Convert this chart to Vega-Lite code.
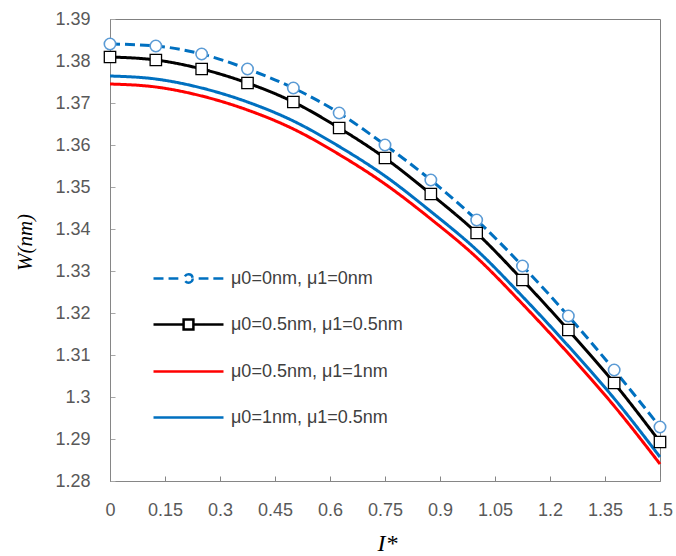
{
  "$schema": "https://vega.github.io/schema/vega-lite/v6.json",
  "width": 550,
  "height": 462,
  "autosize": "none",
  "padding": {"left": 110, "top": 19, "right": 16, "bottom": 75},
  "background": "white",
  "config": {
    "view": {"stroke": "#808080", "strokeWidth": 1},
    "axis": {"grid": false, "labelFont": "Liberation Sans", "labelFontSize": 18, "labelColor": "#595959", "domainColor": "#868686", "tickColor": "#a6a6a6", "tickSize": -5, "titleFont": "Liberation Serif", "titleFontStyle": "italic", "titleFontWeight": "normal", "titleColor": "#000000"}
  },
  "data": {"values": [
    {"x": 0, "W": 1.38405, "s": "μ0=0nm, μ1=0nm"},
    {"x": 0.125, "W": 1.38357, "s": "μ0=0nm, μ1=0nm"},
    {"x": 0.25, "W": 1.38167, "s": "μ0=0nm, μ1=0nm"},
    {"x": 0.375, "W": 1.3781, "s": "μ0=0nm, μ1=0nm"},
    {"x": 0.5, "W": 1.37357, "s": "μ0=0nm, μ1=0nm"},
    {"x": 0.625, "W": 1.36762, "s": "μ0=0nm, μ1=0nm"},
    {"x": 0.75, "W": 1.36, "s": "μ0=0nm, μ1=0nm"},
    {"x": 0.875, "W": 1.35167, "s": "μ0=0nm, μ1=0nm"},
    {"x": 1.0, "W": 1.34214, "s": "μ0=0nm, μ1=0nm"},
    {"x": 1.125, "W": 1.33119, "s": "μ0=0nm, μ1=0nm"},
    {"x": 1.25, "W": 1.31929, "s": "μ0=0nm, μ1=0nm"},
    {"x": 1.375, "W": 1.30643, "s": "μ0=0nm, μ1=0nm"},
    {"x": 1.5, "W": 1.29286, "s": "μ0=0nm, μ1=0nm"},
    {"x": 0, "W": 1.38095, "s": "μ0=0.5nm, μ1=0.5nm"},
    {"x": 0.125, "W": 1.38024, "s": "μ0=0.5nm, μ1=0.5nm"},
    {"x": 0.25, "W": 1.3781, "s": "μ0=0.5nm, μ1=0.5nm"},
    {"x": 0.375, "W": 1.37476, "s": "μ0=0.5nm, μ1=0.5nm"},
    {"x": 0.5, "W": 1.37024, "s": "μ0=0.5nm, μ1=0.5nm"},
    {"x": 0.625, "W": 1.36405, "s": "μ0=0.5nm, μ1=0.5nm"},
    {"x": 0.75, "W": 1.3569, "s": "μ0=0.5nm, μ1=0.5nm"},
    {"x": 0.875, "W": 1.34833, "s": "μ0=0.5nm, μ1=0.5nm"},
    {"x": 1.0, "W": 1.33905, "s": "μ0=0.5nm, μ1=0.5nm"},
    {"x": 1.125, "W": 1.32786, "s": "μ0=0.5nm, μ1=0.5nm"},
    {"x": 1.25, "W": 1.31595, "s": "μ0=0.5nm, μ1=0.5nm"},
    {"x": 1.375, "W": 1.30333, "s": "μ0=0.5nm, μ1=0.5nm"},
    {"x": 1.5, "W": 1.28929, "s": "μ0=0.5nm, μ1=0.5nm"},
    {"x": 0, "W": 1.374524, "s": "μ0=0.5nm, μ1=1nm"},
    {"x": 0.125, "W": 1.37381, "s": "μ0=0.5nm, μ1=1nm"},
    {"x": 0.25, "W": 1.371667, "s": "μ0=0.5nm, μ1=1nm"},
    {"x": 0.375, "W": 1.368333, "s": "μ0=0.5nm, μ1=1nm"},
    {"x": 0.5, "W": 1.36381, "s": "μ0=0.5nm, μ1=1nm"},
    {"x": 0.625, "W": 1.357738, "s": "μ0=0.5nm, μ1=1nm"},
    {"x": 0.75, "W": 1.350714, "s": "μ0=0.5nm, μ1=1nm"},
    {"x": 0.875, "W": 1.342381, "s": "μ0=0.5nm, μ1=1nm"},
    {"x": 1.0, "W": 1.333214, "s": "μ0=0.5nm, μ1=1nm"},
    {"x": 1.125, "W": 1.322143, "s": "μ0=0.5nm, μ1=1nm"},
    {"x": 1.25, "W": 1.310357, "s": "μ0=0.5nm, μ1=1nm"},
    {"x": 1.375, "W": 1.297857, "s": "μ0=0.5nm, μ1=1nm"},
    {"x": 1.5, "W": 1.284048, "s": "μ0=0.5nm, μ1=1nm"},
    {"x": 0, "W": 1.376429, "s": "μ0=1nm, μ1=0.5nm"},
    {"x": 0.125, "W": 1.375714, "s": "μ0=1nm, μ1=0.5nm"},
    {"x": 0.25, "W": 1.373571, "s": "μ0=1nm, μ1=0.5nm"},
    {"x": 0.375, "W": 1.370238, "s": "μ0=1nm, μ1=0.5nm"},
    {"x": 0.5, "W": 1.365714, "s": "μ0=1nm, μ1=0.5nm"},
    {"x": 0.625, "W": 1.359643, "s": "μ0=1nm, μ1=0.5nm"},
    {"x": 0.75, "W": 1.352619, "s": "μ0=1nm, μ1=0.5nm"},
    {"x": 0.875, "W": 1.344167, "s": "μ0=1nm, μ1=0.5nm"},
    {"x": 1.0, "W": 1.335, "s": "μ0=1nm, μ1=0.5nm"},
    {"x": 1.125, "W": 1.323929, "s": "μ0=1nm, μ1=0.5nm"},
    {"x": 1.25, "W": 1.312143, "s": "μ0=1nm, μ1=0.5nm"},
    {"x": 1.375, "W": 1.299643, "s": "μ0=1nm, μ1=0.5nm"},
    {"x": 1.5, "W": 1.285714, "s": "μ0=1nm, μ1=0.5nm"}
  ]},
  "encoding": {
    "x": {"field": "x", "type": "quantitative", "scale": {"domain": [0, 1.5], "nice": false, "zero": false},
      "axis": {"values": [0, 0.15, 0.3, 0.45, 0.6, 0.75, 0.9, 1.05, 1.2, 1.35, 1.5], "format": ".2~f", "labelPadding": 25, "tickColor": "#868686", "title": "I*", "titleFontSize": 24, "titleX": 277, "titleY": 69, "titleAlign": "center", "titleBaseline": "alphabetic", "labelFlush": false, "labelOverlap": false}},
    "y": {"field": "W", "type": "quantitative", "scale": {"domain": [1.28, 1.39], "nice": false, "zero": false},
      "axis": {"values": [1.28, 1.29, 1.3, 1.31, 1.32, 1.33, 1.34, 1.35, 1.36, 1.37, 1.38, 1.39], "format": ".2~f", "labelPadding": 25, "title": "W(nm)", "titleFontSize": 21, "titleX": -85, "titleY": 223, "titleAngle": -90, "titleAlign": "center", "titleBaseline": "middle", "labelFlush": false, "labelOverlap": false}}
  },
  "layer": [
    {
      "mark": {"type": "line", "interpolate": "monotone", "strokeWidth": 3},
      "encoding": {
        "color": {"field": "s", "type": "nominal",
          "scale": {"domain": ["μ0=0nm, μ1=0nm", "μ0=0.5nm, μ1=0.5nm", "μ0=0.5nm, μ1=1nm", "μ0=1nm, μ1=0.5nm"], "range": ["#0070C0", "#000000", "#FF0000", "#0070C0"]},
          "legend": {"orient": "none", "legendX": 42, "legendY": 223, "title": null, "padding": 0, "symbolSize": 4900, "symbolStrokeWidth": 2.5, "rowPadding": -21, "labelFont": "Liberation Sans", "labelFontSize": 18, "labelColor": "#404040", "labelOffset": 6, "labelLimit": 300,
            "encode": {"symbols": {"update": {
              "shape": {"signal": "datum.value === 'μ0=0nm, μ1=0nm' ? 'M-1,0H-0.71M-0.57,0H-0.29M0.29,0H0.57M0.71,0H1M0.12,0C0.12,0.0663,0.0663,0.12,0,0.12C-0.0663,0.12,-0.12,0.0663,-0.12,0C-0.12,-0.0663,-0.0663,-0.12,0,-0.12C0.0663,-0.12,0.12,-0.0663,0.12,0Z' : datum.value === 'μ0=0.5nm, μ1=0.5nm' ? 'M-1,0H-0.14M0.14,0H1M-0.14,-0.14H0.14V0.14H-0.14Z' : 'M-1,0H1'"},
              "fill": {"value": "white"},
              "strokeWidth": {"value": 2.5}
            }}}}
        },
        "strokeDash": {"field": "s", "type": "nominal", "legend": null,
          "scale": {"domain": ["μ0=0nm, μ1=0nm", "μ0=0.5nm, μ1=0.5nm", "μ0=0.5nm, μ1=1nm", "μ0=1nm, μ1=0.5nm"], "range": [[10, 5], [1, 0], [1, 0], [1, 0]]}}
      }
    },
    {
      "transform": [{"filter": "datum.s === 'μ0=0nm, μ1=0nm' || datum.s === 'μ0=0.5nm, μ1=0.5nm'"}],
      "mark": {"type": "point", "filled": false, "fill": "white", "fillOpacity": 1, "opacity": 1, "size": 130},
      "encoding": {
        "shape": {"field": "s", "type": "nominal", "scale": {"domain": ["μ0=0nm, μ1=0nm", "μ0=0.5nm, μ1=0.5nm"], "range": ["circle", "square"]}, "legend": null},
        "stroke": {"field": "s", "type": "nominal", "scale": {"domain": ["μ0=0nm, μ1=0nm", "μ0=0.5nm, μ1=0.5nm"], "range": ["#5B9BD5", "#000000"]}, "legend": null},
        "strokeWidth": {"field": "s", "type": "nominal", "scale": {"domain": ["μ0=0nm, μ1=0nm", "μ0=0.5nm, μ1=0.5nm"], "range": [1.6, 1.3]}, "legend": null}
      }
    }
  ]
}
